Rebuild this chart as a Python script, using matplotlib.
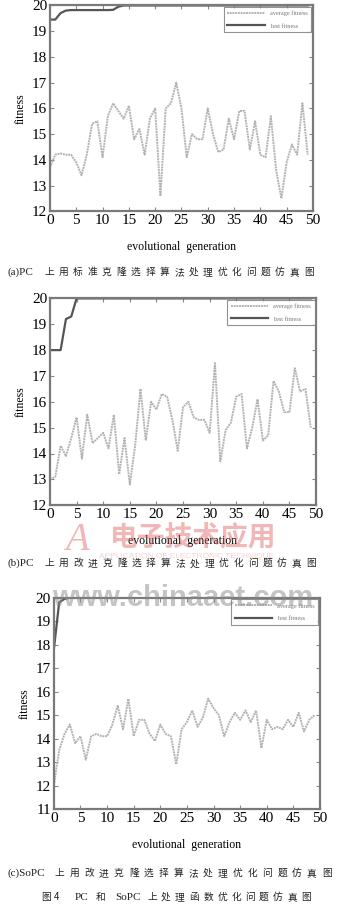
import matplotlib
matplotlib.use("Agg")
from matplotlib import pyplot as plt
import numpy as np

# generations 0..49
gen = list(range(50))

avg_a = [13.7, 14.2, 14.25, 14.2, 14.2, 13.9, 13.4, 14.2, 15.4, 15.5,
         14.1, 15.7, 16.2, 15.9, 15.6, 16.1, 14.8, 15.2, 14.2, 15.6,
         16.0, 12.6, 16.0, 16.2, 17.0, 16.0, 14.1, 15.0, 14.8, 14.8,
         16.0, 15.0, 14.3, 14.4, 15.6, 14.8, 15.9, 15.9, 14.4, 15.5,
         14.2, 14.1, 15.7, 13.6, 12.5, 13.9, 14.6, 14.2, 16.2, 14.2]
best_a = [19.45, 19.45, 19.7, 19.8, 19.82, 19.82, 19.82, 19.82, 19.82, 19.82,
          19.82, 19.82, 19.83, 19.95] + [20.0] * 36

avg_b = [13.0, 13.1, 14.3, 13.9, 14.6, 15.4, 13.8, 15.5, 14.4, 14.6,
         14.8, 14.2, 15.5, 13.2, 14.6, 12.8, 14.3, 16.5, 14.5, 16.0,
         15.7, 16.3, 16.2, 15.3, 14.1, 15.8, 16.0, 15.4, 15.3, 15.3,
         14.8, 17.5, 13.7, 14.9, 15.2, 16.2, 16.3, 14.2, 15.0, 16.1,
         14.5, 14.7, 16.8, 16.4, 15.6, 15.6, 17.3, 16.4, 16.5, 15.0]
best_b = [18.0, 18.0, 18.0, 19.2, 19.3, 20.0] + [20.0] * 44

avg_c = [12.0, 13.5, 14.2, 14.6, 13.8, 14.1, 13.1, 14.1, 14.2, 14.1,
         14.1, 14.6, 15.4, 14.4, 15.7, 14.1, 14.8, 14.8, 14.2, 13.9,
         14.6, 14.2, 14.1, 12.9, 14.4, 14.7, 15.2, 14.5, 14.9, 15.7,
         15.3, 15.0, 14.1, 14.7, 15.1, 14.8, 15.2, 14.7, 15.2, 13.6,
         14.8, 14.4, 14.5, 14.4, 14.8, 14.5, 15.1, 14.3, 14.8, 15.0]
best_c = [17.8, 19.8, 19.95] + [20.0] * 47

captions = ["(a)PC 上用标准克隆选择算法处理优化问题仿真图",
            "(b)PC 上用改进克隆选择算法处理优化问题仿真图",
            "(c)SoPC 上用改进克隆选择算法处理优化问题仿真图"]

plt.rcParams['font.family'] = ['Liberation Serif', 'Noto Sans CJK SC']

fig = plt.figure(figsize=(3.52, 9.07), dpi=100)

panels = [
    ([0.142, 0.767, 0.747, 0.227], avg_a, best_a, (12, 20)),
    ([0.142, 0.443, 0.756, 0.228], avg_b, best_b, (12, 20)),
    ([0.153, 0.108, 0.756, 0.233], avg_c, best_c, (11, 20)),
]

for rect, avg, best, ylim in panels:
    ax = fig.add_axes(rect)
    ax.plot(gen, avg, color='#b3b3b3', lw=1.4, ls=(0, (1.0, 0.4)), label='average fitness')
    ax.plot(gen, best, color='#555555', lw=1.6, label='best fitness')
    ax.set_xlim(0, 50)
    ax.set_ylim(*ylim)
    ax.set_xticks(range(0, 51, 5))
    ax.set_yticks(range(ylim[0], 21))
    ax.tick_params(direction='in', top=True, right=True, length=3, width=0.8,
                   color='#888888', labelsize=11, pad=2)
    for s in ax.spines.values():
        s.set_color('#7a7a7a')
        s.set_linewidth(1.6)
    ax.set_xlabel("evolutional  generation", fontsize=8.5, labelpad=10)
    ax.set_ylabel("fitness", fontsize=8.5, labelpad=4)
    leg = ax.legend(loc='upper right', fontsize=4.5, frameon=True, fancybox=False,
                    borderpad=0.6, handlelength=6, labelspacing=1.1, borderaxespad=0.25)
    leg.get_frame().set_edgecolor('#777777')
    leg.get_frame().set_linewidth(0.8)
    for t in leg.get_texts():
        t.set_color('#777777')


def spaced_caption(text, y, x0, x1):
    # latin prefix, then the chinese characters spread evenly
    head, tail = text.split(" ", 1)
    tail = tail.replace(" ", "")
    fig.text(x0, y, head, fontsize=8, ha='left', va='center', color='#222222')
    hx = x0 + (len(head) * 5.0 + 9) / 352
    step = (x1 - hx) / len(tail)
    for i, ch in enumerate(tail):
        fig.text(hx + step * (i + 0.5), y, ch, fontsize=7, ha='center', va='center',
                 color='#222222', family=['Noto Sans CJK SC'])


spaced_caption(captions[0], 0.700, 8 / 352, 316 / 352)
spaced_caption(captions[1], 0.379, 8 / 352, 318 / 352)
spaced_caption(captions[2], 0.0375, 8 / 352, 334 / 352)

# figure caption
fig.text(42 / 352, 0.011, "图 4", fontsize=7, ha='left', va='center',
         family=['Noto Sans CJK SC'], color='#222222')
fig.text(75 / 352, 0.011, "PC", fontsize=8, ha='left', va='center', color='#222222')
fig.text(96 / 352, 0.011, "和", fontsize=7, ha='left', va='center',
         family=['Noto Sans CJK SC'], color='#222222')
fig.text(115 / 352, 0.011, "SoPC", fontsize=8, ha='left', va='center', color='#222222')
rest = "上处理函数优化问题仿真图"
for i, ch in enumerate(rest):
    fig.text((152 + i * 14.0) / 352, 0.011, ch, fontsize=7, ha='center', va='center',
             family=['Noto Sans CJK SC'], color='#222222')

# watermarks
fig.text(0.52, 1 - 598 / 907, "www.chinaaet.com", fontsize=21, fontweight='bold',
         family=['Liberation Sans'], color='#8a8a8a', alpha=0.5, ha='center', va='center')
fig.text(0.55, 1 - 537 / 907, "电子技术应用", fontsize=20, fontweight='bold',
         family=['Noto Sans CJK SC'], color='#e06060', alpha=0.45, ha='center', va='center')
fig.text(0.22, 1 - 540 / 907, "A", fontsize=28, style='italic',
         family=['Liberation Serif'], color='#e06060', alpha=0.45, ha='center', va='center')
fig.text(0.53, 1 - 556 / 907, "APPLICATION OF ELECTRONIC TECHNIQUE", fontsize=6,
         family=['Liberation Sans'], color='#e08080', alpha=0.35, ha='center', va='center')

fig.savefig("out.png", dpi=100)
